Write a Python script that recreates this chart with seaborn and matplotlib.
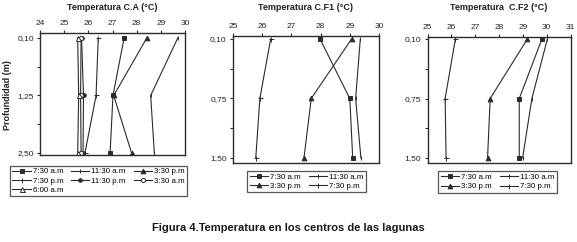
import numpy as np
import pandas as pd
import seaborn as sns
import matplotlib
matplotlib.use("Agg")
import matplotlib.pyplot as plt
from matplotlib.ticker import FixedLocator

# Profundidades (posiciones categóricas 0, 1, 2 en el eje y)
prof_ca = ["0,10", "1,25", "2,50"]
prof_cf = ["0,10", "0,75", "1,50"]

# Temperatura C.A (°C)
horas_ca = ["7:30 a.m", "11:30 a.m", "3:30 p.m", "7:30 p.m", "11:30 p.m", "3:30 a.m", "6:00 a.m"]
ca_0730am = [27.48, 27.02, 26.90]
ca_1130am = [29.70, 28.58, 28.73]
ca_0330pm = [28.42, 27.05, 27.79]
ca_0730pm = [26.41, 26.32, 25.86]
ca_1130pm = [25.72, 25.80, 25.78]
ca_0330am = [25.70, 25.68, 25.70]
ca_0600am = [25.56, 25.60, 25.56]

# Temperatura C.F1 (°C)
horas_cf = ["7:30 a.m", "11:30 a.m", "3:30 p.m", "7:30 p.m"]
cf1_0730am = [27.98, 29.00, 29.10]
cf1_1130am = [29.36, 29.20, 29.38]
cf1_0330pm = [29.06, 27.68, 27.43]
cf1_0730pm = [26.29, 25.92, 25.78]

# Temperatura C.F2 (°C)
cf2_0730am = [29.80, 28.85, 28.85]
cf2_1130am = [30.03, 29.38, 28.99]
cf2_0330pm = [29.19, 27.63, 27.52]
cf2_0730pm = [26.17, 25.74, 25.78]

plt.rcParams["font.family"] = ["Liberation Sans", "DejaVu Sans"]

col = "#2b2b2b"
estilos = {
    "7:30 a.m": dict(marker="s", ms=2.6, mfc=col),
    "11:30 a.m": dict(marker="|", ms=3.0, mfc=col),
    "3:30 p.m": dict(marker="^", ms=3.4, mfc=col),
    "7:30 p.m": dict(marker="+", ms=3.6, mfc=col),
    "11:30 p.m": dict(marker="o", ms=2.6, mfc=col),
    "3:30 a.m": dict(marker="o", ms=3.0, mfc="white"),
    "6:00 a.m": dict(marker="^", ms=3.6, mfc="white"),
}


def armar(horas, series):
    filas = []
    for h, vals in zip(horas, series):
        for i, v in enumerate(vals):
            filas.append({"hora": h, "pos": i, "temp": v})
    return pd.DataFrame(filas)


df_ca = armar(horas_ca, [ca_0730am, ca_1130am, ca_0330pm, ca_0730pm,
                         ca_1130pm, ca_0330am, ca_0600am])
df_cf1 = armar(horas_cf, [cf1_0730am, cf1_1130am, cf1_0330pm, cf1_0730pm])
df_cf2 = armar(horas_cf, [cf2_0730am, cf2_1130am, cf2_0330pm, cf2_0730pm])

W, H = 577, 242
fig = plt.figure(figsize=(W / 100, H / 100), dpi=100)


def px_axes(l, t, r, b):
    return fig.add_axes([l / W, 1 - b / H, (r - l) / W, (b - t) / H])


paneles = [
    dict(df=df_ca, box=(40, 33, 185, 155), xlim=(24, 30), ylim=(2.035, -0.087),
         prof=prof_ca, titulo="Temperatura C.A (°C)", horas=horas_ca),
    dict(df=df_cf1, box=(233, 36, 379, 163), xlim=(25, 30), ylim=(2.084, -0.05),
         prof=prof_cf, titulo="Temperatura C.F1 (°C)", horas=horas_cf),
    dict(df=df_cf2, box=(427.5, 37, 570.5, 163), xlim=(25, 31), ylim=(2.084, -0.034),
         prof=prof_cf, titulo="Temperatura  C.F2 (°C)", horas=horas_cf),
]

ejes = []
for p in paneles:
    ax = px_axes(*p["box"])
    ejes.append(ax)
    for h in p["horas"]:
        sub = p["df"][p["df"]["hora"] == h]
        st = estilos[h]
        sns.lineplot(data=sub, x="temp", y="pos", sort=False, estimator=None,
                     color=col, lw=0.8, marker=st["marker"], markersize=st["ms"],
                     markerfacecolor=st["mfc"], markeredgecolor=col,
                     markeredgewidth=0.7, label=h, ax=ax, legend=False)
    ax.set_xlim(*p["xlim"])
    ax.set_ylim(*p["ylim"])
    ax.set_xticks(np.arange(p["xlim"][0], p["xlim"][1] + 1))
    ax.xaxis.tick_top()
    ax.set_yticks([0, 1, 2])
    ax.set_yticklabels(p["prof"])
    ax.yaxis.set_minor_locator(FixedLocator([0.5, 1.5]))
    ax.tick_params(axis="both", which="both", labelsize=6, direction="out",
                   length=2.5, width=0.8, colors=col, pad=2)
    ax.tick_params(axis="both", labelcolor="#222222")
    ax.set_xlabel("")
    ax.set_ylabel("")
    for s in ax.spines.values():
        s.set_linewidth(1.0)
        s.set_color(col)
    l, t, r, b = p["box"]
    fig.text(((l + r) / 2) / W, 1 - 8 / H, p["titulo"], ha="center", va="center",
             fontsize=6.5, fontweight="bold", color="#222222")

fig.text(8 / W, 1 - 95 / H, "Profundidad (m)", rotation=90, ha="center",
         va="center", fontsize=6.5, fontweight="bold", color="#222222")


def leyenda(ax, orden, centro, ncol, colsp):
    hand = {ln.get_label(): ln for ln in ax.get_lines()}
    cx, cy = centro
    lg = fig.legend([hand[h] for h in orden], orden, ncol=ncol,
                    loc="center", bbox_to_anchor=(cx / W, 1 - cy / H),
                    fontsize=5.7, handlelength=2.3, handletextpad=0.25,
                    columnspacing=colsp, labelspacing=0.22, borderpad=0.3,
                    frameon=True, fancybox=False, edgecolor=col, borderaxespad=0)
    lg.get_frame().set_linewidth(0.9)
    return lg


leyenda(ejes[0], ["7:30 a.m", "7:30 p.m", "6:00 a.m", "11:30 a.m", "11:30 p.m",
                  "3:30 p.m", "3:30 a.m"], (98.5, 181), 3, 1.0)
leyenda(ejes[1], ["7:30 a.m", "3:30 p.m", "11:30 a.m", "7:30 p.m"], (306.5, 181.5), 2, 1.0)
leyenda(ejes[2], ["7:30 a.m", "3:30 p.m", "11:30 a.m", "7:30 p.m"], (497.5, 182), 2, 1.0)

fig.text(288 / W, 1 - 228 / H, "Figura 4.Temperatura en los centros de las lagunas",
         ha="center", va="center", fontsize=8.0, fontweight="bold", color="#1a1a1a")

fig.savefig("out.png", dpi=100, facecolor="white")
